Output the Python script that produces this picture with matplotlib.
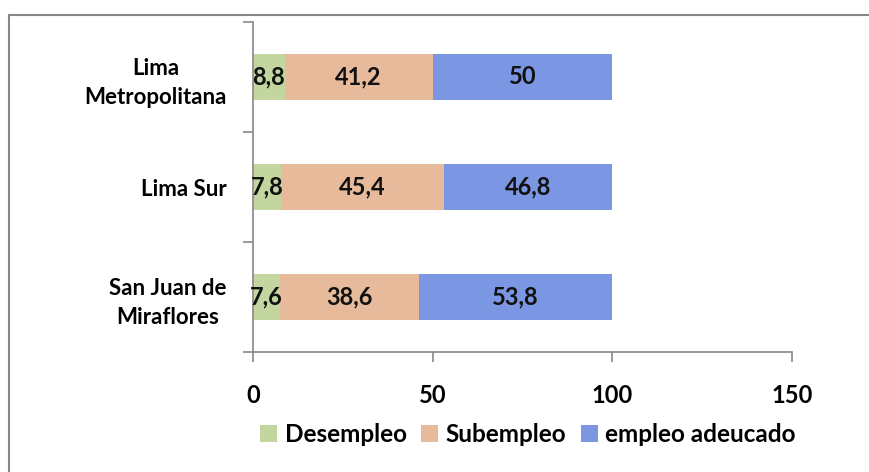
import matplotlib.pyplot as plt
from matplotlib.lines import Line2D

categories = ["Lima\nMetropolitana", "Lima Sur", "San Juan de\nMiraflores"]
desempleo = [8.8, 7.8, 7.6]
subempleo = [41.2, 45.4, 38.6]
adecuado = [50, 46.8, 53.8]
series_names = ["Desempleo", "Subempleo", "empleo adeucado"]
xticks = [0, 50, 100, 150]

colors = ["#c4d6a0", "#e8ba9c", "#7b97e4"]
font = "Lato"


def fmt(v):
    # comma as decimal separator, no decimals on whole numbers
    if float(v).is_integer():
        return str(int(v))
    return str(v).replace(".", ",")


fig = plt.figure(figsize=(8.7, 4.72), dpi=100)
ax = fig.add_axes([0.2908, 0.2542, 0.6195, 0.6992])

ys = list(range(len(categories)))
left = [0] * len(categories)
for vals, name, col in zip([desempleo, subempleo, adecuado], series_names, colors):
    bars = ax.barh(ys, vals, left=left, height=0.41, color=col, label=name)
    ax.bar_label(bars, labels=[fmt(v) for v in vals], label_type="center",
                 fontsize=17, fontweight="bold", family=font, color="#111111")
    left = [a + b for a, b in zip(left, vals)]

ax.set_xlim(0, 150)
ax.set_ylim(2.5, -0.5)
ax.set_xticks(xticks)
ax.set_xticklabels([str(t) for t in xticks], fontsize=17, fontweight="bold", family=font)
ax.set_yticks(ys)
ax.set_yticklabels(categories, fontsize=16, fontweight="bold", family=font,
                   multialignment="center", linespacing=1.45)
ax.set_yticks([-0.5, 0.5, 1.5, 2.5], minor=True)

ax.tick_params(axis="x", direction="out", length=7, width=1.2, color="#888888", pad=16)
ax.tick_params(axis="y", which="major", length=0, pad=19)
ax.tick_params(axis="y", which="minor", direction="out", length=7, width=1.2, color="#888888")

for s in ["top", "right"]:
    ax.spines[s].set_visible(False)
for s in ["left", "bottom"]:
    ax.spines[s].set_color("#888888")
    ax.spines[s].set_linewidth(1.2)

leg = ax.legend(loc="upper center", bbox_to_anchor=(0.51, -0.15), ncol=3, frameon=False,
                handlelength=0.7, handleheight=0.7, handletextpad=0.3,
                columnspacing=0.6, prop={"family": font, "weight": "bold", "size": 17.5})

# outer frame of the scanned chart (top and left edges only visible)
fig.add_artist(Line2D([9 / 870, 1], [1 - 15 / 472, 1 - 15 / 472], color="#888888", lw=1.5))
fig.add_artist(Line2D([9 / 870, 9 / 870], [0, 1 - 15 / 472], color="#888888", lw=1.5))

fig.savefig("out.png", dpi=100)
